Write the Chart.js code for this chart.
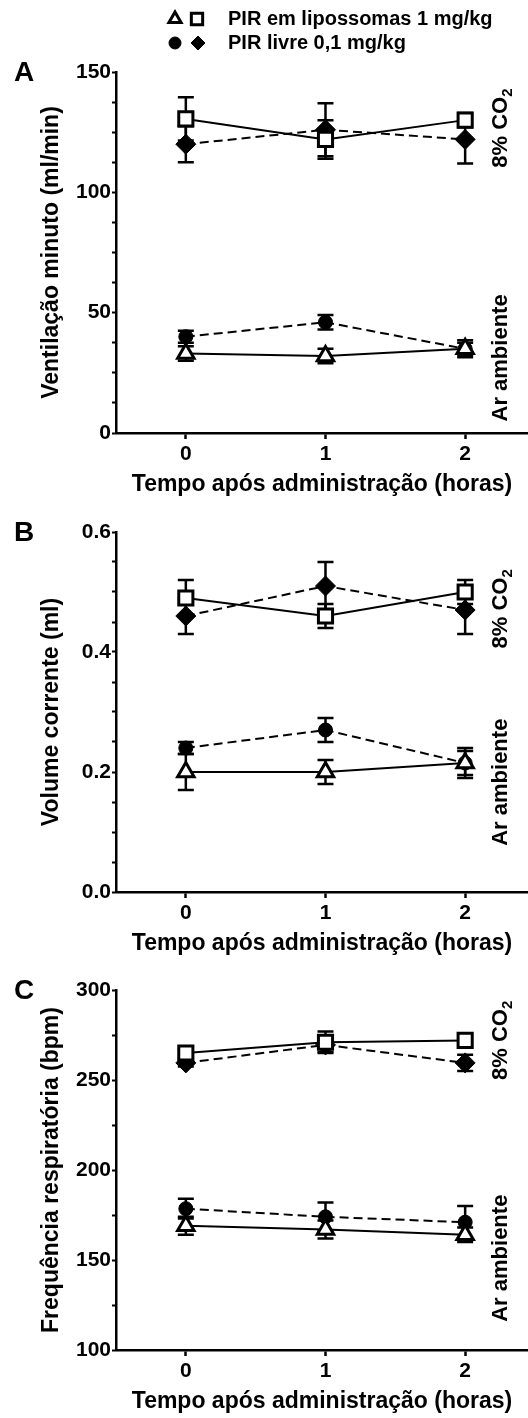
<!DOCTYPE html>
<html>
<head>
<meta charset="utf-8">
<script src="https://cdn.jsdelivr.net/npm/chart.js@4.4.1/dist/chart.umd.min.js"></script>
<style>
  body { margin: 0; background: #fff; }
  .panel { position: absolute; left: 0; width: 528px; }
  canvas { display: block; }
</style>
</head>
<body>
<div class="panel" style="top:0px"><canvas id="chartA" width="528" height="500"></canvas></div>
<div class="panel" style="top:500px"><canvas id="chartB" width="528" height="460"></canvas></div>
<div class="panel" style="top:960px"><canvas id="chartC" width="528" height="458"></canvas></div>
<script>
// horas apos administracao
const hours = [0, 1, 2];
const xTicks = [0, 1, 2];

// A - ventilacao minuto (ml/min)
const ventLipoAr = [33, 32, 35];
const ventLipoArErr = [3, 3, 2.5];
const ventLivreAr = [40, 46, 35];
const ventLivreArErr = [2.5, 3, 3.5];
const ventLipoCO2 = [130.5, 122, 130];
const ventLipoCO2Err = [9, 8, 3];
const ventLivreCO2 = [120, 126, 122];
const ventLivreCO2Err = [7.5, 11, 10];
const ventTicks = [0, 50, 100, 150];

// B - volume corrente (ml)
const volLipoAr = [0.20, 0.20, 0.215];
const volLipoArErr = [0.03, 0.02, 0.02];
const volLivreAr = [0.24, 0.27, 0.215];
const volLivreArErr = [0.01, 0.02, 0.025];
const volLipoCO2 = [0.49, 0.46, 0.50];
const volLipoCO2Err = [0.03, 0.02, 0.02];
const volLivreCO2 = [0.46, 0.51, 0.47];
const volLivreCO2Err = [0.03, 0.04, 0.04];
const volTicks = [0.0, 0.2, 0.4, 0.6];

// C - frequencia respiratoria (bpm)
const freqLipoAr = [169, 167, 164];
const freqLipoArErr = [5, 5, 4];
const freqLivreAr = [178.5, 174, 171];
const freqLivreArErr = [5.5, 8, 9];
const freqLipoCO2 = [265, 271, 272];
const freqLipoCO2Err = [2, 6, 4];
const freqLivreCO2 = [259.5, 269.5, 259.5];
const freqLivreCO2Err = [2, 4, 4.5];
const freqTicks = [100, 150, 200, 250, 300];

const FONT = '"Liberation Sans", Arial, sans-serif';
Chart.defaults.font.family = FONT;
Chart.defaults.font.weight = 'bold';
Chart.defaults.color = '#000';

function minorTicks(major, sub) {
  let out = [];
  for (let i = 0; i < major.length - 1; i++) {
    const step = (major[i + 1] - major[i]) / sub;
    for (let j = 0; j < sub; j++) out.push(major[i] + step * j);
  }
  out.push(major[major.length - 1]);
  return out;
}

const radii = { triangle: 9.5, circle: 7, rect: 10, rectRot: 10 };

function series(label, vals, errs, style, livre) {
  return {
    label: label,
    data: hours.map((h, i) => ({ x: h, y: vals[i] })),
    err: errs,
    borderColor: '#000',
    borderWidth: 2,
    borderDash: livre ? [9, 5] : [],
    pointStyle: style,
    pointRadius: radii[style],
    pointBorderWidth: livre ? 1 : 3,
    pointBackgroundColor: livre ? '#000' : '#fff',
    pointBorderColor: '#000',
    fill: false,
    tension: 0,
    clip: false
  };
}

// barras de erro (EPM)
const errorBars = {
  id: 'errorBars',
  beforeDatasetsDraw(chart) {
    const ctx = chart.ctx;
    const ys = chart.scales.y;
    ctx.save();
    ctx.strokeStyle = '#000';
    ctx.lineWidth = 2.5;
    chart.data.datasets.forEach((ds, i) => {
      const meta = chart.getDatasetMeta(i);
      meta.data.forEach((pt, k) => {
        const v = ds.data[k].y;
        const e = ds.err[k];
        const top = ys.getPixelForValue(v + e);
        const bot = ys.getPixelForValue(v - e);
        ctx.beginPath();
        ctx.moveTo(pt.x, top); ctx.lineTo(pt.x, bot);
        ctx.moveTo(pt.x - 8, top); ctx.lineTo(pt.x + 8, top);
        ctx.moveTo(pt.x - 8, bot); ctx.lineTo(pt.x + 8, bot);
        ctx.stroke();
      });
    });
    ctx.restore();
  }
};

// letra do painel, rotulos a direita e legenda
const panelText = {
  id: 'panelText',
  afterDraw(chart, args, opts) {
    const ctx = chart.ctx;
    const ys = chart.scales.y;
    const area = chart.chartArea;
    ctx.save();
    ctx.fillStyle = '#000';
    ctx.font = 'bold 28px ' + FONT;
    ctx.textAlign = 'center';
    ctx.textBaseline = 'middle';
    ctx.fillText(opts.letter, 24, area.top + 1);

    opts.side.forEach(lb => {
      const main = 'bold 22px ' + FONT;
      const small = 'bold 15px ' + FONT;
      ctx.font = main;
      let w = ctx.measureText(lb.text).width;
      let ws = 0;
      if (lb.sub) { ctx.font = small; ws = ctx.measureText(lb.sub).width; }
      const total = w + ws;
      ctx.save();
      ctx.translate(507, ys.getPixelForValue(lb.at));
      ctx.rotate(-Math.PI / 2);
      ctx.textAlign = 'left';
      ctx.textBaseline = 'alphabetic';
      ctx.font = main;
      ctx.fillText(lb.text, -total / 2, 0);
      if (lb.sub) { ctx.font = small; ctx.fillText(lb.sub, -total / 2 + w, 5); }
      ctx.restore();
    });

    if (opts.legend) {
      const items = [
        { y: 19, marks: [['triangle', 7, false, 175], ['rect', 8, false, 197]], text: 'PIR em lipossomas 1 mg/kg' },
        { y: 43, marks: [['circle', 6, true, 175], ['rectRot', 7, true, 198]], text: 'PIR livre 0,1 mg/kg' }
      ];
      items.forEach(it => {
        it.marks.forEach(m => {
          ctx.fillStyle = m[2] ? '#000' : '#fff';
          ctx.strokeStyle = '#000';
          ctx.lineWidth = m[2] ? 1 : 3;
          Chart.helpers.drawPoint(ctx, { pointStyle: m[0], radius: m[1], borderWidth: ctx.lineWidth, rotation: 0 }, m[3], it.y);
        });
        ctx.fillStyle = '#000';
        ctx.font = 'bold 20px ' + FONT;
        ctx.textAlign = 'left';
        ctx.textBaseline = 'middle';
        ctx.fillText(it.text, 228, it.y);
      });
    }
    ctx.restore();
  }
};

function makePanel(id, cfg) {
  const canvas = document.getElementById(id);
  const xH = canvas.height - cfg.chartBottom;
  const major = cfg.ticks;
  new Chart(canvas, {
    type: 'line',
    data: {
      datasets: [
        series('PIR em lipossomas 1 mg/kg', cfg.lipoAr, cfg.lipoArErr, 'triangle', false),
        series('PIR livre 0,1 mg/kg', cfg.livreAr, cfg.livreArErr, 'circle', true),
        series('PIR em lipossomas 1 mg/kg', cfg.lipoCO2, cfg.lipoCO2Err, 'rect', false),
        series('PIR livre 0,1 mg/kg', cfg.livreCO2, cfg.livreCO2Err, 'rectRot', true)
      ]
    },
    options: {
      responsive: false,
      animation: false,
      events: [],
      layout: { autoPadding: false, padding: { top: cfg.chartTop, left: 0, right: 0, bottom: 0 } },
      plugins: {
        legend: { display: false },
        tooltip: { enabled: false },
        panelText: { letter: cfg.letter, side: cfg.side, legend: cfg.legend }
      },
      scales: {
        x: {
          type: 'linear',
          min: -0.5,
          max: 2.45,
          afterBuildTicks: s => { s.ticks = xTicks.map(v => ({ value: v })); },
          afterFit: s => { s.height = xH; s.paddingLeft = 0; s.paddingRight = 0; },
          ticks: { font: { size: 21, weight: 'bold' }, padding: 3, maxRotation: 0 },
          grid: { drawOnChartArea: false, drawTicks: true, tickLength: 6, tickWidth: 2.5, tickColor: '#000' },
          border: { display: true, color: '#000', width: 2.5 },
          title: {
            display: true,
            text: 'Tempo após administração (horas)',
            font: { size: 23, weight: 'bold' },
            padding: { top: 0, bottom: xH - 52 - 13.8 }
          }
        },
        y: {
          type: 'linear',
          min: major[0],
          max: major[major.length - 1],
          afterBuildTicks: s => { s.ticks = minorTicks(major, 4).map(v => ({ value: v })); },
          afterFit: s => { s.width = 116; s.paddingLeft = 0; s.paddingRight = 0; },
          ticks: {
            font: { size: 21, weight: 'bold' },
            padding: 1,
            callback: v => major.some(m => Math.abs(m - v) < 1e-9) ? cfg.fmt(v) : ''
          },
          grid: { drawOnChartArea: false, drawTicks: true, tickLength: 4, tickWidth: 2, tickColor: '#000' },
          border: { display: true, color: '#000', width: 2.5 },
          title: {
            display: true,
            text: cfg.yTitle,
            font: { size: 23, weight: 'bold' },
            padding: { top: 52 - 13.8, bottom: 0 }
          }
        }
      }
    },
    plugins: [errorBars, panelText]
  });
}

window.onload = () => {
  makePanel('chartA', {
    letter: 'A', legend: true, chartTop: 72, chartBottom: 433,
    ticks: ventTicks, fmt: v => String(Math.round(v)),
    yTitle: 'Ventilação minuto (ml/min)',
    lipoAr: ventLipoAr, lipoArErr: ventLipoArErr,
    livreAr: ventLivreAr, livreArErr: ventLivreArErr,
    lipoCO2: ventLipoCO2, lipoCO2Err: ventLipoCO2Err,
    livreCO2: ventLivreCO2, livreCO2Err: ventLivreCO2Err,
    side: [{ text: '8% CO', sub: '2', at: 126.7 }, { text: 'Ar ambiente', at: 31.2 }]
  });
  makePanel('chartB', {
    letter: 'B', legend: false, chartTop: 32, chartBottom: 392,
    ticks: volTicks, fmt: v => v.toFixed(1),
    yTitle: 'Volume corrente (ml)',
    lipoAr: volLipoAr, lipoArErr: volLipoArErr,
    livreAr: volLivreAr, livreArErr: volLivreArErr,
    lipoCO2: volLipoCO2, lipoCO2Err: volLipoCO2Err,
    livreCO2: volLivreCO2, livreCO2Err: volLivreCO2Err,
    side: [{ text: '8% CO', sub: '2', at: 0.472 }, { text: 'Ar ambiente', at: 0.183 }]
  });
  makePanel('chartC', {
    letter: 'C', legend: false, chartTop: 30, chartBottom: 390,
    ticks: freqTicks, fmt: v => String(Math.round(v)),
    yTitle: 'Frequência respiratória (bpm)',
    lipoAr: freqLipoAr, lipoArErr: freqLipoArErr,
    livreAr: freqLivreAr, livreArErr: freqLivreArErr,
    lipoCO2: freqLipoCO2, lipoCO2Err: freqLipoCO2Err,
    livreCO2: freqLivreCO2, livreCO2Err: freqLivreCO2Err,
    side: [{ text: '8% CO', sub: '2', at: 272 }, { text: 'Ar ambiente', at: 151 }]
  });
};
</script>
</body>
</html>
